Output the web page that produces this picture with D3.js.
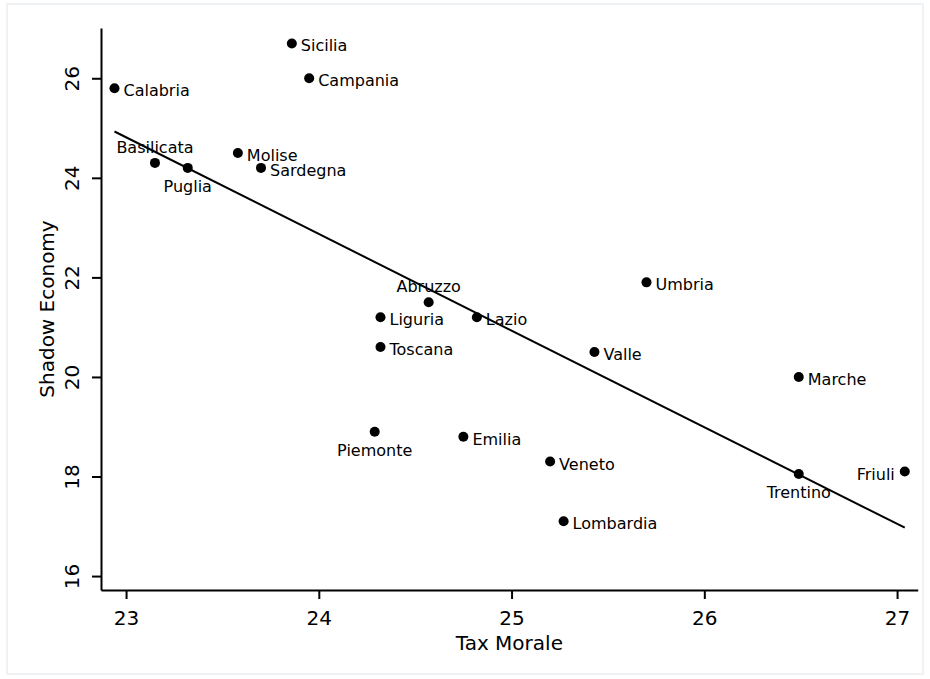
<!DOCTYPE html>
<html>
<head>
<meta charset="utf-8">
<script src="https://cdn.jsdelivr.net/npm/d3@7"></script>
<style>
  html, body { margin: 0; padding: 0; background: #ffffff; }
  svg { display: block; }
  text { font-family: "DejaVu Sans", Verdana, sans-serif; fill: #000; }
</style>
</head>
<body>
<svg id="chart" width="930" height="679"></svg>
<script>
// Italian regions: tax morale vs. size of the shadow economy
const regions = [
  "Sicilia", "Campania", "Calabria", "Basilicata", "Puglia", "Molise", "Sardegna",
  "Abruzzo", "Liguria", "Lazio", "Toscana", "Valle", "Umbria", "Piemonte",
  "Emilia", "Veneto", "Lombardia", "Marche", "Trentino", "Friuli"
];
const taxMorale = [
  23.86, 23.95, 22.94, 23.15, 23.32, 23.58, 23.70,
  24.57, 24.32, 24.82, 24.32, 25.43, 25.70, 24.29,
  24.75, 25.20, 25.27, 26.49, 26.49, 27.04
];
const shadowEconomy = [
  26.7, 26.0, 25.8, 24.3, 24.2, 24.5, 24.2,
  21.5, 21.2, 21.2, 20.6, 20.5, 21.9, 18.9,
  18.8, 18.3, 17.1, 20.0, 18.05, 18.1
];
// marker-label clock position for each region (3 = right, 12 = above, 6 = below, 9 = left)
const labelClock = [
  3, 3, 3, 12, 6, 3, 3,
  12, 3, 3, 3, 3, 3, 6,
  3, 3, 3, 3, 6, 9
];
const xTicks = [23, 24, 25, 26, 27];
const yTicks = [16, 18, 20, 22, 24, 26];
const xDomain = [22.87, 27.107];
const yDomain = [15.72, 27.01];

const svg = d3.select("#chart");

// light frame around the graph region
svg.append("rect")
  .attr("x", 7).attr("y", 4)
  .attr("width", 916).attr("height", 670)
  .attr("fill", "none")
  .attr("stroke", "#eef2f5")
  .attr("stroke-width", 2);

const plot = { left: 101, right: 917.7, top: 28, bottom: 590 };

const x = d3.scaleLinear().domain(xDomain).range([plot.left, plot.right]);
const y = d3.scaleLinear().domain(yDomain).range([plot.bottom, plot.top]);

const data = regions.map((name, i) => ({
  name, tm: taxMorale[i], se: shadowEconomy[i], clock: labelClock[i]
}));

// axes
const xAxis = d3.axisBottom(x).tickValues(xTicks).tickFormat(d3.format("d"))
  .tickSize(9).tickSizeOuter(0);
const yAxis = d3.axisLeft(y).tickValues(yTicks).tickFormat(d3.format("d"))
  .tickSize(9).tickSizeOuter(0);

const gx = svg.append("g").attr("transform", `translate(0,${plot.bottom})`).call(xAxis);
const gy = svg.append("g").attr("transform", `translate(${plot.left},0)`).call(yAxis);

[gx, gy].forEach(g => {
  g.select(".domain").attr("stroke", "#000").attr("stroke-width", 2);
  g.selectAll(".tick line").attr("stroke", "#000").attr("stroke-width", 2);
  g.selectAll(".tick text")
    .style("font-family", "'DejaVu Sans', Verdana, sans-serif")
    .attr("font-size", 20).attr("fill", "#000");
});

gx.selectAll(".tick text").attr("y", 35).attr("dy", 0);
gy.selectAll(".tick text")
  .attr("transform", "rotate(-90)")
  .attr("text-anchor", "middle")
  .attr("x", 0).attr("y", -22.5).attr("dy", 0);

// axis titles
svg.append("text")
  .attr("x", (plot.left + plot.right) / 2).attr("y", 650)
  .attr("text-anchor", "middle").attr("font-size", 20)
  .text("Tax Morale");

svg.append("text")
  .attr("transform", `translate(54,${(plot.top + plot.bottom) / 2}) rotate(-90)`)
  .attr("text-anchor", "middle").attr("font-size", 20)
  .text("Shadow Economy");

// OLS fitted line over the observed range of tax morale
const mx = d3.mean(taxMorale), my = d3.mean(shadowEconomy);
const sxy = d3.sum(data, d => (d.tm - mx) * (d.se - my));
const sxx = d3.sum(data, d => (d.tm - mx) ** 2);
const slope = sxy / sxx, intercept = my - slope * mx;
const [xmin, xmax] = d3.extent(taxMorale);

svg.append("path")
  .datum([xmin, xmax].map(v => [v, intercept + slope * v]))
  .attr("fill", "none").attr("stroke", "#000").attr("stroke-width", 2)
  .attr("d", d3.line().x(d => x(d[0])).y(d => y(d[1])));

// points
svg.append("g").selectAll("circle").data(data).join("circle")
  .attr("cx", d => x(d.tm)).attr("cy", d => y(d.se))
  .attr("r", 5).attr("fill", "#000");

// marker labels
const place = {
  3:  { dx: 9,   dy: 8,   anchor: "start" },
  9:  { dx: -10, dy: 8,   anchor: "end" },
  12: { dx: 0,   dy: -10, anchor: "middle" },
  6:  { dx: 0,   dy: 24,  anchor: "middle" }
};
svg.append("g").selectAll("text").data(data).join("text")
  .attr("x", d => x(d.tm) + place[d.clock].dx)
  .attr("y", d => y(d.se) + place[d.clock].dy)
  .attr("text-anchor", d => place[d.clock].anchor)
  .attr("font-size", 16)
  .text(d => d.name);
</script>
</body>
</html>
